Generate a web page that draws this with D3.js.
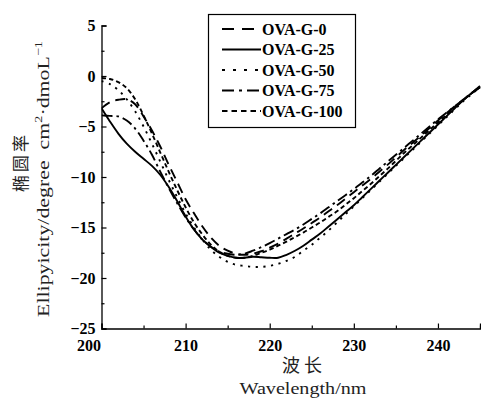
<!DOCTYPE html>
<html>
<head>
<meta charset="utf-8">
<script src="https://cdn.jsdelivr.net/npm/d3@7"></script>
<style>
  html, body { margin: 0; padding: 0; background: #fff; }
  svg { display: block; }
  text { white-space: pre; }
</style>
</head>
<body>
<svg id="chart" width="481" height="400"></svg>
<script>
// Wavelength grid (nm)
const wavelengths = [200,201,202,203,204,205,206,207,208,209,210,211,212,213,214,215,216,217,218,219,220,221,222,223,224,225,226,227,228,229,230,231,232,233,234,235,236,237,238,239,240,241,242,243,244,245];

// Ellipticity for each sample
const ova0 = [-3.2,-2.6,-2.35,-2.3,-2.8,-4.0,-5.4,-7.0,-8.8,-10.5,-12.2,-13.6,-14.9,-16.0,-16.8,-17.3,-17.6,-17.7,-17.6,-17.35,-17.0,-16.6,-16.1,-15.6,-15.1,-14.55,-14.0,-13.4,-12.8,-12.15,-11.5,-10.85,-10.2,-9.5,-8.8,-8.05,-7.3,-6.6,-5.9,-5.15,-4.4,-3.7,-3.0,-2.35,-1.7,-1.1];
const ova25 = [-3.2,-4.5,-5.7,-6.7,-7.5,-8.2,-8.9,-9.8,-11.0,-12.4,-13.9,-15.2,-16.2,-16.9,-17.5,-17.8,-18.0,-18.0,-17.9,-17.95,-18.0,-18.0,-17.7,-17.3,-16.8,-16.2,-15.6,-14.9,-14.2,-13.5,-12.8,-12.0,-11.2,-10.4,-9.6,-8.8,-8.0,-7.2,-6.4,-5.6,-4.8,-4.0,-3.2,-2.4,-1.7,-1.0];
const ova50 = [-0.5,-0.8,-1.4,-2.3,-3.5,-5.0,-6.7,-8.5,-10.3,-12.0,-13.6,-15.0,-16.2,-17.2,-17.9,-18.4,-18.7,-18.8,-18.9,-18.9,-18.8,-18.6,-18.3,-17.9,-17.3,-16.7,-16.0,-15.3,-14.5,-13.7,-12.9,-12.1,-11.3,-10.5,-9.7,-8.9,-8.1,-7.3,-6.5,-5.7,-4.9,-4.1,-3.3,-2.5,-1.8,-1.1];
const ova75 = [-3.9,-3.95,-4.0,-4.4,-5.2,-6.4,-7.8,-9.5,-11.1,-12.6,-14.0,-15.2,-16.2,-16.9,-17.4,-17.6,-17.7,-17.6,-17.3,-16.95,-16.55,-16.1,-15.65,-15.2,-14.7,-14.15,-13.6,-13.0,-12.4,-11.8,-11.2,-10.55,-9.9,-9.2,-8.5,-7.8,-7.1,-6.4,-5.7,-5.0,-4.3,-3.65,-3.0,-2.35,-1.7,-1.1];
const ova100 = [-0.2,-0.3,-0.6,-1.2,-2.3,-3.9,-5.7,-7.6,-9.5,-11.3,-13.0,-14.5,-15.7,-16.7,-17.4,-17.8,-18.0,-18.0,-17.8,-17.5,-17.2,-16.8,-16.4,-15.95,-15.5,-15.0,-14.5,-13.95,-13.4,-12.75,-12.1,-11.4,-10.7,-9.95,-9.2,-8.4,-7.6,-6.85,-6.1,-5.35,-4.6,-3.85,-3.1,-2.4,-1.7,-1.1];

const seriesNames = ["OVA-G-0", "OVA-G-25", "OVA-G-50", "OVA-G-75", "OVA-G-100"];
const seriesValues = [ova0, ova25, ova50, ova75, ova100];

// Axis ticks
const xTicks = [200, 210, 220, 230, 240];
const xMinorTicks = [205, 215, 225, 235, 245];
const yTicks = [5, 0, -5, -10, -15, -20, -25];
const yMinorTicks = [2.5, -2.5, -7.5, -12.5, -17.5, -22.5];

// Line dash styles per series
const dashes = ["10,6", null, "2.2,5.5", "11,4,2.5,4", "4.5,3"];

const svg = d3.select("#chart");
const x = d3.scaleLinear().domain([200, 245]).range([101.5, 480]);
const y = d3.scaleLinear().domain([-25, 5]).range([328.5, 25.5]);

const serif = "'Liberation Serif', 'Times New Roman', serif";
const cjk = "'Noto Sans CJK SC', sans-serif";

svg.append("defs").append("clipPath").attr("id", "plotClip")
  .append("rect").attr("x", x(200)).attr("y", y(5) - 2)
  .attr("width", x(245) - x(200) + 2).attr("height", y(-25) - y(5) + 2);

// Curves
const line = d3.line()
  .x((d, i) => x(wavelengths[i]))
  .y(d => y(d))
  .curve(d3.curveCatmullRom.alpha(0.5));

const curves = svg.append("g").attr("clip-path", "url(#plotClip)");
seriesValues.forEach((vals, k) => {
  curves.append("path")
    .datum(vals)
    .attr("d", line)
    .attr("fill", "none")
    .attr("stroke", "#000")
    .attr("stroke-width", 1.9)
    .attr("stroke-dasharray", dashes[k]);
});

// Axes with inward ticks
const xAxis = svg.append("g").attr("transform", `translate(0,${y(-25)})`)
  .call(d3.axisBottom(x).tickValues(xTicks).tickSize(-5).tickPadding(8).tickFormat(d3.format("d")));
svg.append("g").attr("transform", `translate(0,${y(-25)})`)
  .call(d3.axisBottom(x).tickValues(xMinorTicks).tickSize(-3).tickFormat(""))
  .call(g => g.select(".domain").remove());

const yAxis = svg.append("g").attr("transform", `translate(${x(200)},0)`)
  .call(d3.axisLeft(y).tickValues(yTicks).tickSize(-5).tickPadding(6).tickFormat(d3.format("d")));
svg.append("g").attr("transform", `translate(${x(200)},0)`)
  .call(d3.axisLeft(y).tickValues(yMinorTicks).tickSize(-3).tickFormat(""))
  .call(g => g.select(".domain").remove());

svg.selectAll(".domain").attr("stroke", "#000").attr("stroke-width", 1.3);
svg.selectAll(".tick line").attr("stroke", "#000").attr("stroke-width", 1.2);
svg.selectAll(".tick text")
  .attr("font-family", serif).attr("font-weight", "bold")
  .attr("font-size", 16).attr("fill", "#000");
xAxis.selectAll(".tick text").attr("dy", "0.9em");
// the first wavelength label sits left of the corner, below "-25"
xAxis.selectAll(".tick").filter(d => d === 200).select("text").attr("dx", -13);

// Axis titles
svg.append("text")
  .attr("x", 304).attr("y", 372)
  .attr("text-anchor", "middle")
  .attr("font-family", cjk).attr("font-size", 18)
  .attr("letter-spacing", 4)
  .attr("fill", "#222")
  .text("波长");

function stretched(node, target) {
  const w = node.getComputedTextLength();
  return target / w;
}

const wl = svg.append("text")
  .attr("text-anchor", "middle")
  .attr("font-family", serif).attr("font-size", 17)
  .attr("fill", "#222")
  .text("Wavelength/nm");
const kx = stretched(wl.node(), 127);
wl.attr("transform", `translate(303,394) scale(${kx},1)`);

svg.append("text")
  .attr("transform", "translate(19,162) rotate(-90)")
  .attr("text-anchor", "middle")
  .attr("dominant-baseline", "central")
  .attr("font-family", cjk).attr("font-size", 17)
  .attr("letter-spacing", 3)
  .attr("fill", "#222")
  .text("椭圆率");

const yt = svg.append("text")
  .attr("text-anchor", "middle")
  .attr("font-family", serif).attr("font-size", 17)
  .attr("fill", "#222");
yt.append("tspan").text("Ellipyicity/degree  cm");
yt.append("tspan").attr("font-size", 11).attr("dy", -7).text("2");
yt.append("tspan").attr("dy", 7).text("·dmoL");
yt.append("tspan").attr("font-size", 11).attr("dy", -7).text("−1");
const ky = stretched(yt.node(), 276);
yt.attr("transform", `translate(49,179) rotate(-90) scale(${ky},1)`);

// Legend
const legend = svg.append("g");
legend.append("rect")
  .attr("x", 208.5).attr("y", 14.5).attr("width", 147).attr("height", 113)
  .attr("fill", "#fff").attr("stroke", "#000").attr("stroke-width", 1.2);
const legendDashes = ["12,8", null, "3,8", "12,5,3,5", "5.5,4"];
seriesNames.forEach((name, k) => {
  const cy = 29 + k * 20.5;
  legend.append("line")
    .attr("x1", 222).attr("x2", 261).attr("y1", cy).attr("y2", cy)
    .attr("stroke", "#000").attr("stroke-width", 2.2)
    .attr("stroke-dasharray", legendDashes[k]);
  legend.append("text")
    .attr("x", 262).attr("y", cy)
    .attr("dominant-baseline", "central")
    .attr("font-family", serif).attr("font-weight", "bold").attr("font-size", 16)
    .attr("fill", "#000")
    .text(name);
});
</script>
</body>
</html>
